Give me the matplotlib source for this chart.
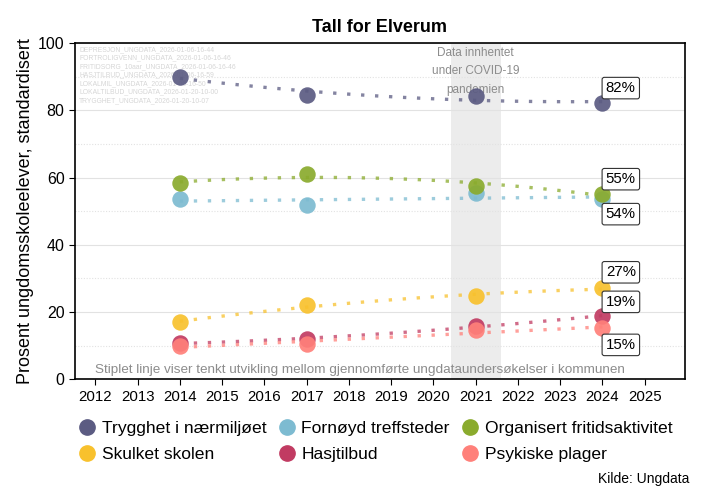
import numpy as np
import matplotlib.pyplot as plt
from matplotlib.lines import Line2D

plt.rcParams['font.family'] = ['Liberation Sans', 'DejaVu Sans']

# --- data ---
years = [2014, 2017, 2021, 2024]
series_names = ["Trygghet i nærmiljøet", "Fornøyd treffsteder", "Organisert fritidsaktivitet",
                "Skulket skolen", "Hasjtilbud", "Psykiske plager"]
trygghet = [90.0, 84.5, 84.2, 82.1]
fornoyd = [53.6, 51.8, 55.4, 53.6]
organisert = [58.3, 61.0, 57.4, 55.0]
skulket = [17.0, 22.0, 24.7, 27.0]
hasj = [10.7, 11.9, 15.8, 18.8]
psykiske = [9.8, 10.4, 14.6, 15.2]
last_labels = ["82%", "54%", "55%", "27%", "19%", "15%"]
xtick_years = list(range(2012, 2026))
watermark_lines = [
    "DEPRESJON_UNGDATA_2026-01-06-16-44",
    "FORTROLIGVENN_UNGDATA_2026-01-06-16-46",
    "FRITIDSORG_10aar_UNGDATA_2026-01-06-16-46",
    "HASJTILBUD_UNGDATA_2026-01-06-16-59",
    "LOKALMIL_UNGDATA_2026-01-06-16-50",
    "LOKALTILBUD_UNGDATA_2026-01-20-10-00",
    "TRYGGHET_UNGDATA_2026-01-20-10-07",
]

colors = ["#5b5b82", "#7dbbd1", "#8aab2d", "#f8c12d", "#c13b62", "#ff807a"]
values = [trygghet, fornoyd, organisert, skulket, hasj, psykiske]
label_offsets = [4.5, -4.5, 4.5, 4.8, 4.2, -5.0]

fig = plt.figure(figsize=(7.01, 4.95), dpi=100)
ax = fig.add_axes([0.107, 0.234, 0.870, 0.679])

# covid period shading
ax.axvspan(2020.42, 2021.6, color="#ececec", zorder=0, lw=0)
ax.text(2021, 98.8, "Data innhentet\nunder COVID-19\npandemien", ha="center", va="top",
        fontsize=8.5, color="#8c8c8c", linespacing=1.7, zorder=1)

# smoothed dotted trend lines and points
xs = np.linspace(years[0], years[-1], 200)
for vals, col in zip(values, colors):
    coef = np.polyfit(years, vals, 2)
    ax.plot(xs, np.polyval(coef, xs), linestyle=(0, (1, 3.2)), lw=2.4, color=col,
            alpha=0.75, zorder=2)
    ax.scatter(years, vals, s=140, color=col, alpha=0.92, zorder=3, linewidths=0)

for vals, lab, off in zip(values, last_labels, label_offsets):
    ax.text(years[-1] + 0.08, vals[-1] + off, lab, ha="left", va="center", fontsize=10.8,
            zorder=5, bbox=dict(boxstyle="round,pad=0.25,rounding_size=0.15",
                                fc="white", ec="#333333", lw=0.8))

# watermark text
for i, line in enumerate(watermark_lines):
    ax.text(2011.62, 98.1 - i * 2.53, line, fontsize=4.9, color="#d6d6d6", va="center", zorder=1)

ax.text(2012, 2.6, "Stiplet linje viser tenkt utvikling mellom gjennomførte ungdataundersøkelser i kommunen",
        fontsize=9.7, color="#8c8c8c", ha="left", va="center", zorder=1)

ax.set_xlim(2011.52, 2025.95)
ax.set_ylim(0, 100)
ax.set_xticks(xtick_years)
ax.set_yticks(range(0, 101, 20))
ax.set_yticks(range(10, 100, 20), minor=True)
ax.tick_params(axis="y", which="minor", length=0)
ax.tick_params(axis="both", which="major", labelsize=10.8, color="black", length=4)
ax.tick_params(axis="y", which="major", labelsize=11.5)
ax.grid(axis="y", which="major", color="#e2e2e2", lw=0.8)
ax.grid(axis="y", which="minor", color="#e2e2e2", lw=0.8, linestyle=(0, (1, 1.5)))
ax.set_axisbelow(True)
for sp in ax.spines.values():
    sp.set_linewidth(1.2)

ax.set_ylabel("Prosent ungdomsskoleelever, standardisert", fontsize=13, labelpad=3)
ax.set_title("Tall for Elverum", fontsize=13, fontweight="bold", pad=8)

# legend: 3 columns, rows of 3
handles = [Line2D([], [], marker="o", linestyle="", markersize=11, color=c) for c in colors]
order = [0, 3, 1, 4, 2, 5]
fig.legend([handles[i] for i in order], [series_names[i] for i in order],
           loc="upper left", bbox_to_anchor=(0.099, 0.164), ncol=3, frameon=False,
           fontsize=12.6, handlelength=1.2, handletextpad=0.25, columnspacing=0.55,
           labelspacing=0.6, borderaxespad=0)

fig.text(0.984, 0.033, "Kilde: Ungdata", ha="right", va="center", fontsize=10)

fig.savefig("out.png", dpi=100)
